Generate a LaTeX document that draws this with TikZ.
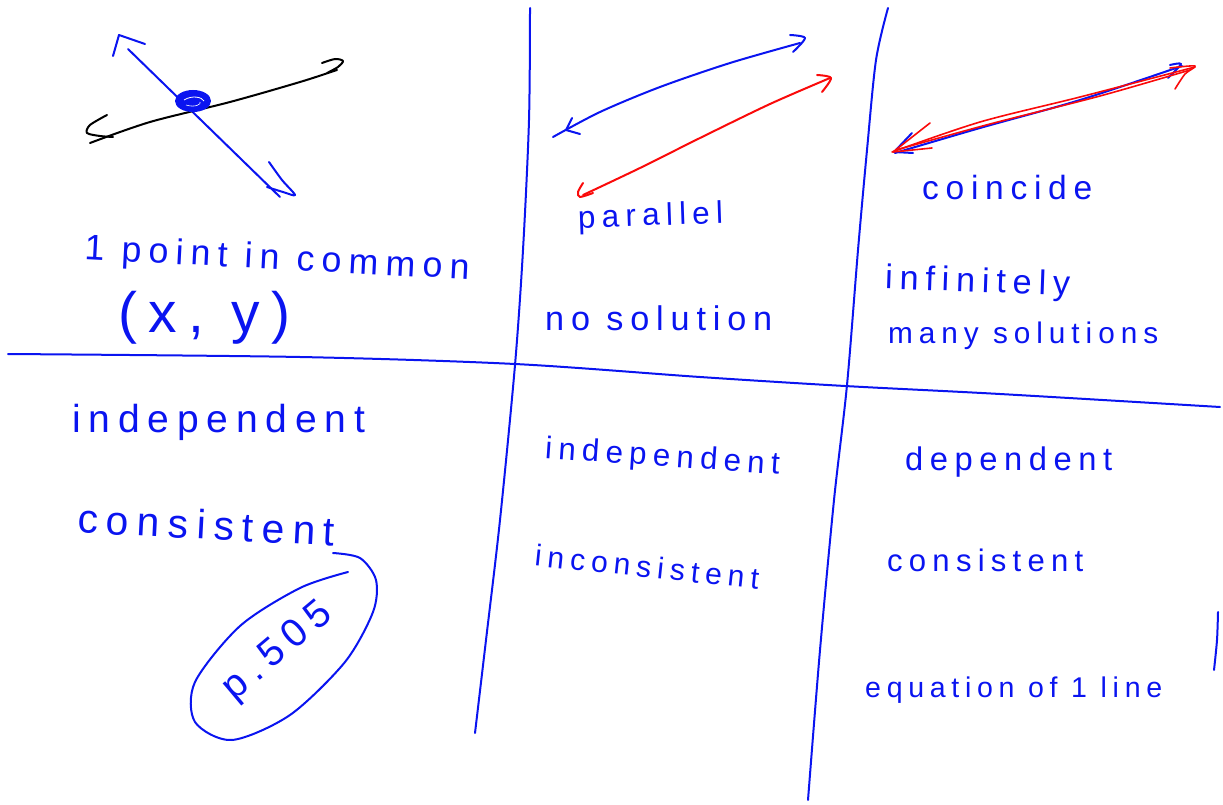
\documentclass[tikz,border=0pt]{standalone}
\usepackage{fontspec}
\usepackage{graphicx}
\usetikzlibrary{shapes.geometric}
\newfontfamily\hwfont[LetterSpace=20]{Liberation Sans}
\definecolor{penblue}{RGB}{10,20,240}
\definecolor{penred}{RGB}{250,10,10}
\newcommand\hwtext[2]{\resizebox{#1pt}{!}{\hwfont #2}}
\begin{document}
\begin{tikzpicture}[x=1pt,y=-1pt,
  pen/.style={line width=2pt,line cap=round,line join=round},
  bluepen/.style={pen,penblue},
  redpen/.style={pen,penred},
  blackpen/.style={pen,black},
  hw/.style={inner sep=0pt,text=penblue,anchor=west}]
\useasboundingbox (0,0) rectangle (1223,805);
% grid lines
\draw[bluepen] plot[smooth] coordinates {(8,354) (300,357) (515,364) (700,377) (845,386) (1000,394) (1220,407)};
\draw[bluepen] plot[smooth] coordinates {(530,8) (529,120) (523,250) (515,365) (500,520) (486,640) (475,733)};
\draw[bluepen] plot[smooth] coordinates {(888,8) (876,60) (867,150) (858,250) (847,385) (834,500) (820,650) (808,800)};
\draw[bluepen] plot[smooth] coordinates {(1218,612) (1217,640) (1214,670)};
% intersecting lines
\coordinate (b1) at (128,49); \coordinate (b2) at (280,197);
\draw[bluepen] (b1) -- (b2);
\draw[bluepen] (113,56) -- (119,35) -- (145,44);
\draw[bluepen] plot[smooth] coordinates {(269,162) (282,180) (295,195) (283,192) (267,187)};
\coordinate (k1) at (90,143); \coordinate (k2) at (337,70);
\draw[blackpen] plot[smooth] coordinates {(k1) (150,122) (230,102) (300,82) (k2)};
\draw[blackpen] plot[smooth] coordinates {(107,115) (90,125) (87,133) (100,136) (113,137)};
\draw[blackpen] plot[smooth] coordinates {(322,63) (335,59) (343,61) (338,67) (327,73)};
\node[bluepen,draw,fill=penblue,ellipse,minimum width=34pt,minimum height=20pt,inner sep=0pt] (dot) at (193,101) {};
\draw[white,line width=0.8pt] (184,100) .. controls (192,95) and (202,97) .. (204,101);
\draw[white,line width=0.6pt] (186,105) .. controls (195,108) and (202,104) .. (200,102);
% parallel lines
\draw[bluepen] plot[smooth] coordinates {(553,137) (600,112) (660,87) (730,63) (800,43)};
\draw[bluepen] plot[smooth] coordinates {(790,35) (805,38) (793,52)};
\draw[bluepen] (572,118) -- (566,130) -- (580,134);
\draw[redpen] plot[smooth] coordinates {(583,195) (640,168) (700,138) (770,104) (830,78)};
\draw[redpen] plot[smooth] coordinates {(583,183) (578,192) (580,197) (593,193)};
\draw[redpen] plot[smooth] coordinates {(817,75) (831,78) (822,92)};
% coincident lines
\draw[bluepen] plot[smooth] coordinates {(895,153) (980,128) (1080,100) (1182,66)};
\draw[bluepen] (912,133) -- (894,152) -- (913,153);
\draw[bluepen] plot[smooth] coordinates {(1170,65) (1181,64) (1168,78)};
\draw[redpen,line width=1.6pt] plot[smooth] coordinates {(892,152) (980,122) (1080,97) (1195,67)};
\draw[redpen,line width=1.6pt] plot[smooth] coordinates {(896,150) (990,124) (1100,96) (1190,70)};
\draw[redpen,line width=1.6pt] (930,123) -- (893,152) -- (932,148);
\draw[redpen,line width=1.6pt] plot[smooth] coordinates {(1170,68) (1195,66) (1185,74) (1175,89)};
% texts top row
\node[hw,rotate=-3] (t1) at (85,250) {\hwtext{385}{1 point in common}};
\node[hw] (t2) at (118,318) {\hwtext{172}{(x, y)}};
\node[hw,rotate=2] (t3) at (578,220) {\hwtext{145}{parallel}};
\node[hw] (t4) at (545,318) {\hwtext{227}{no solution}};
\node[hw] (t5) at (922,188) {\hwtext{170}{coincide}};
\node[hw,rotate=-2] (t6) at (885,280) {\hwtext{185}{infinitely}};
\node[hw] (t7) at (888,336) {\hwtext{270}{many solutions}};
% texts bottom row
\node[hw] (t8) at (72,422) {\hwtext{293}{independent}};
\node[hw,rotate=-3] (t9) at (78,518) {\hwtext{257}{consistent}};
\node[hw,rotate=-4] (t10) at (545,450) {\hwtext{235}{independent}};
\node[hw,rotate=-6] (t11) at (535,555) {\hwtext{225}{inconsistent}};
\node[hw] (t12) at (905,462) {\hwtext{207}{dependent}};
\node[hw] (t13) at (887,560) {\hwtext{196}{consistent}};
\node[hw] (t14) at (865,690) {\hwtext{297}{equation of 1 line}};
% circled page
\node[text=penblue,inner sep=0pt,rotate=40] (pg) at (278,652) {\resizebox{130pt}{!}{\hwfont p.505}};
\draw[bluepen] plot[smooth] coordinates {(333,553) (360,558) (376,580) (373,612) (345,662) (290,715) (232,740) (195,722) (195,682) (240,626) (300,588) (348,572)};
\end{tikzpicture}
\end{document}
